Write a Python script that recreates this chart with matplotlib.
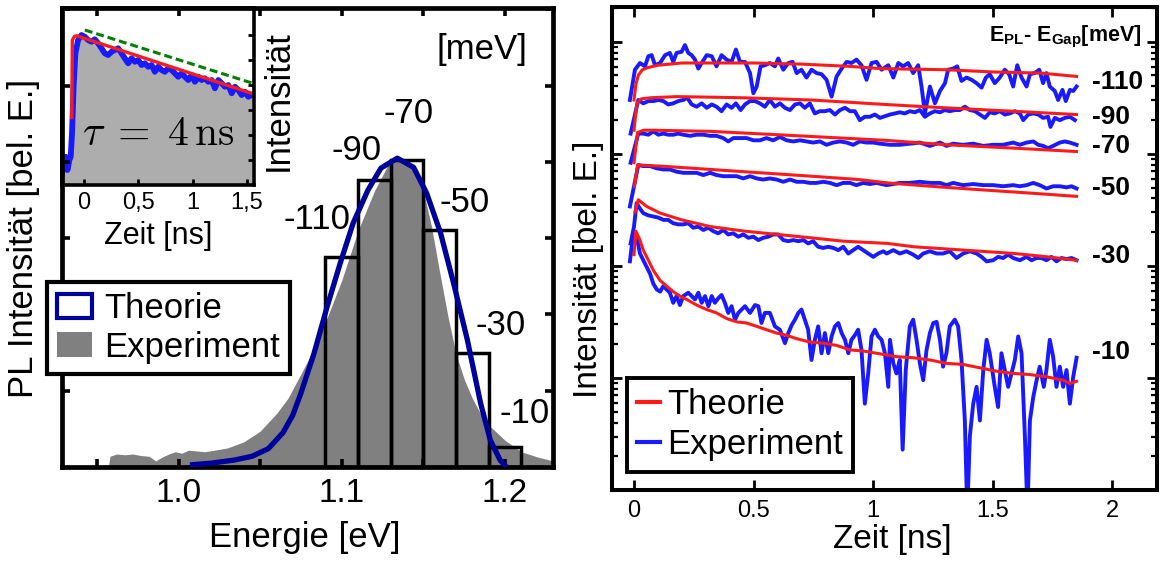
import numpy as np
import matplotlib
matplotlib.use("Agg")
import matplotlib.pyplot as plt
from matplotlib.patches import Patch
from matplotlib.lines import Line2D
from matplotlib.ticker import LogLocator, NullFormatter

plt.rcParams["font.family"] = ["Liberation Sans", "DejaVu Sans"]
plt.rcParams["mathtext.fontset"] = "custom"
plt.rcParams["mathtext.rm"] = "Liberation Sans"
plt.rcParams["mathtext.bf"] = "Liberation Sans:bold"
plt.rcParams["mathtext.it"] = "Liberation Sans:italic"

NAVY = "#00009a"
GRAY = "#808080"
RED = "#ff1a1a"
BLUE = "#1a1aff"

# ---------- left panel: PL spectrum (E [eV], intensity) ----------
spec_exp = np.array([
    (0.957, 0.0), (0.958, 0.14), (0.962, 0.17), (0.967, 0.16), (0.972, 0.17),
    (0.977, 0.15), (0.982, 0.14), (0.986, 0.08), (0.990, 0.13), (0.994, 0.17),
    (0.998, 0.20), (1.002, 0.18), (1.006, 0.22), (1.011, 0.21), (1.016, 0.20),
    (1.022, 0.22), (1.030, 0.25), (1.040, 0.33), (1.050, 0.47), (1.060, 0.70),
    (1.067, 0.90), (1.075, 1.22), (1.083, 1.55), (1.090, 1.90), (1.100, 2.45),
    (1.110, 3.10), (1.120, 3.62), (1.128, 3.95), (1.134, 4.05), (1.140, 4.03),
    (1.145, 3.90), (1.150, 3.62), (1.155, 3.15), (1.160, 2.55), (1.165, 1.98),
    (1.170, 1.48), (1.175, 1.15), (1.180, 0.90), (1.185, 0.70), (1.190, 0.55),
    (1.200, 0.35), (1.210, 0.20), (1.220, 0.13), (1.2294, 0.08)])
spec_th = np.array([
    (1.0086, 0.03), (1.020, 0.05), (1.034, 0.09), (1.045, 0.14), (1.055, 0.24),
    (1.064, 0.45), (1.070, 0.68), (1.075, 0.97), (1.083, 1.49), (1.091, 2.10),
    (1.099, 2.67), (1.107, 3.20), (1.116, 3.63), (1.124, 3.92), (1.134, 4.05),
    (1.144, 3.93), (1.152, 3.59), (1.1605, 3.07), (1.1685, 2.41), (1.177, 1.66),
    (1.185, 0.84), (1.191, 0.35), (1.197, 0.09), (1.200, 0.02)])

# detuning histogram E_PL - E_Gap
hist_left = [1.09, 1.11, 1.13, 1.15, 1.17, 1.19]
hist_height = [2.75, 3.77, 4.02, 3.11, 1.49, 0.26]
hist_label = ["-110", "-90", "-70", "-50", "-30", "-10"]
hist_label_off = [(-18, 27), (-13, 21), (1, 34), (18, 20), (20, 20), (14, 24)]

# ---------- inset: transient (t [ns], intensity) ----------
ins_exp = np.array([
    (-0.200, 0.47), (-0.181, 0.87), (-0.166, 1.13), (-0.150, 0.60), (-0.132, 1.00),
    (-0.120, 1.13), (-0.108, 2.07), (-0.092, 4.07), (-0.077, 5.27), (-0.052, 5.80),
    (-0.021, 6.00), (0.009, 5.93), (0.040, 5.80), (0.071, 5.73), (0.101, 5.83),
    (0.132, 5.67), (0.163, 5.47), (0.193, 5.27), (0.224, 5.20), (0.255, 5.33),
    (0.285, 5.40), (0.316, 5.47), (0.347, 5.27), (0.377, 5.07), (0.408, 4.87),
    (0.439, 5.07), (0.469, 4.93), (0.500, 5.00), (0.531, 4.80), (0.561, 4.87),
    (0.592, 4.73), (0.623, 4.80), (0.653, 4.53), (0.684, 4.73), (0.715, 4.60),
    (0.745, 4.53), (0.776, 4.67), (0.807, 4.60), (0.837, 4.47), (0.868, 4.33),
    (0.899, 4.47), (0.929, 4.33), (0.960, 4.20), (0.991, 4.40), (1.021, 4.13),
    (1.052, 4.33), (1.083, 4.20), (1.113, 4.27), (1.144, 4.13), (1.175, 4.20),
    (1.205, 3.87), (1.236, 4.20), (1.267, 4.07), (1.297, 3.93), (1.328, 4.00),
    (1.359, 3.67), (1.389, 3.93), (1.420, 3.80), (1.451, 3.60), (1.481, 3.73),
    (1.512, 3.53), (1.543, 3.60)])
ins_th = np.array([(-0.110, 2.70), (-0.105, 5.80), (-0.085, 5.95), (-0.065, 5.97),
                   (0.745, 4.81), (1.550, 3.66)])
ins_tau = np.array([(0.010, 6.20), (1.545, 4.08)])

# ---------- right panel: transients, (t [ns], log10 intensity) ----------
exp_110 = np.array([
    (-0.017, 3.48), (0.004, 3.75), (0.025, 3.81), (0.046, 3.78), (0.060, 3.87),
    (0.074, 3.88), (0.088, 3.79), (0.109, 3.81), (0.130, 3.88), (0.150, 3.90),
    (0.164, 3.82), (0.178, 3.90), (0.199, 3.91), (0.213, 3.97), (0.227, 3.90),
    (0.241, 3.88), (0.255, 3.84), (0.269, 3.76), (0.283, 3.81), (0.304, 3.88),
    (0.325, 3.87), (0.345, 3.78), (0.366, 3.88), (0.387, 3.84), (0.408, 3.82),
    (0.426, 3.93), (0.443, 3.82), (0.464, 3.82), (0.485, 3.72), (0.499, 3.54),
    (0.513, 3.60), (0.529, 3.78), (0.547, 3.79), (0.568, 3.81), (0.589, 3.78),
    (0.603, 3.85), (0.624, 3.75), (0.645, 3.81), (0.663, 3.82), (0.680, 3.72),
    (0.700, 3.75), (0.721, 3.68), (0.742, 3.75), (0.763, 3.72), (0.784, 3.71),
    (0.805, 3.66), (0.826, 3.51), (0.847, 3.69), (0.868, 3.76), (0.889, 3.82),
    (0.909, 3.81), (0.930, 3.84), (0.951, 3.79), (0.972, 3.66), (0.993, 3.81),
    (1.014, 3.82), (1.035, 3.75), (1.063, 3.79), (1.084, 3.68), (1.105, 3.81),
    (1.125, 3.78), (1.146, 3.81), (1.167, 3.72), (1.188, 3.79), (1.202, 3.60),
    (1.216, 3.36), (1.237, 3.60), (1.258, 3.45), (1.279, 3.56), (1.300, 3.63),
    (1.313, 3.75), (1.334, 3.76), (1.351, 3.78), (1.369, 3.65), (1.390, 3.68),
    (1.411, 3.66), (1.432, 3.63), (1.453, 3.59), (1.471, 3.68), (1.487, 3.71),
    (1.508, 3.63), (1.529, 3.68), (1.550, 3.75), (1.568, 3.71), (1.585, 3.60),
    (1.602, 3.79), (1.620, 3.68), (1.641, 3.60), (1.655, 3.71), (1.675, 3.72),
    (1.694, 3.75), (1.710, 3.63), (1.724, 3.72), (1.738, 3.60), (1.759, 3.56),
    (1.773, 3.48), (1.791, 3.57), (1.805, 3.47), (1.822, 3.57), (1.836, 3.56),
    (1.850, 3.60)])
exp_90 = np.array([
    (-0.014, 3.18), (0.018, 3.48), (0.039, 3.45), (0.060, 3.47), (0.081, 3.47),
    (0.102, 3.48), (0.123, 3.47), (0.143, 3.44), (0.164, 3.45), (0.185, 3.47),
    (0.206, 3.48), (0.223, 3.50), (0.241, 3.44), (0.262, 3.42), (0.283, 3.45),
    (0.304, 3.41), (0.325, 3.44), (0.345, 3.42), (0.366, 3.38), (0.387, 3.44),
    (0.408, 3.41), (0.426, 3.45), (0.446, 3.39), (0.464, 3.44), (0.485, 3.47),
    (0.506, 3.47), (0.526, 3.45), (0.547, 3.42), (0.568, 3.48), (0.589, 3.42),
    (0.610, 3.45), (0.631, 3.41), (0.652, 3.39), (0.673, 3.44), (0.694, 3.45),
    (0.714, 3.41), (0.735, 3.45), (0.756, 3.36), (0.777, 3.38), (0.798, 3.38),
    (0.819, 3.39), (0.840, 3.35), (0.861, 3.39), (0.882, 3.41), (0.903, 3.38),
    (0.923, 3.38), (0.944, 3.30), (0.965, 3.33), (0.986, 3.33), (1.007, 3.35),
    (1.028, 3.32), (1.070, 3.35), (1.091, 3.36), (1.111, 3.37), (1.132, 3.36),
    (1.153, 3.38), (1.174, 3.37), (1.195, 3.39), (1.216, 3.33), (1.237, 3.36),
    (1.258, 3.38), (1.279, 3.37), (1.299, 3.39), (1.320, 3.38), (1.341, 3.39),
    (1.362, 3.39), (1.383, 3.42), (1.404, 3.39), (1.425, 3.38), (1.446, 3.35),
    (1.467, 3.32), (1.487, 3.37), (1.508, 3.36), (1.529, 3.38), (1.550, 3.35),
    (1.571, 3.36), (1.592, 3.38), (1.613, 3.36), (1.627, 3.30), (1.648, 3.35),
    (1.669, 3.36), (1.690, 3.35), (1.710, 3.32), (1.731, 3.33), (1.741, 3.24),
    (1.759, 3.32), (1.780, 3.30), (1.801, 3.32), (1.822, 3.33), (1.843, 3.30)])
exp_70 = np.array([
    (-0.014, 2.92), (0.018, 3.18), (0.039, 3.18), (0.060, 3.17), (0.081, 3.20),
    (0.102, 3.17), (0.123, 3.18), (0.143, 3.17), (0.164, 3.17), (0.185, 3.18),
    (0.206, 3.17), (0.234, 3.16), (0.262, 3.17), (0.290, 3.17), (0.318, 3.16),
    (0.345, 3.16), (0.373, 3.14), (0.394, 3.11), (0.415, 3.14), (0.443, 3.14),
    (0.471, 3.14), (0.499, 3.12), (0.526, 3.12), (0.554, 3.14), (0.582, 3.12),
    (0.610, 3.15), (0.638, 3.12), (0.666, 3.11), (0.694, 3.12), (0.721, 3.11),
    (0.749, 3.10), (0.777, 3.11), (0.805, 3.08), (0.833, 3.10), (0.861, 3.11),
    (0.889, 3.10), (0.916, 3.08), (0.944, 3.11), (0.972, 3.10), (1.000, 3.10),
    (1.028, 3.09), (1.070, 3.08), (1.111, 3.08), (1.153, 3.09), (1.195, 3.10),
    (1.237, 3.07), (1.279, 3.10), (1.306, 3.07), (1.334, 3.09), (1.376, 3.08),
    (1.418, 3.09), (1.460, 3.07), (1.501, 3.08), (1.543, 3.08), (1.585, 3.10),
    (1.613, 3.08), (1.641, 3.10), (1.669, 3.11), (1.690, 3.08), (1.710, 3.07),
    (1.731, 3.05), (1.752, 3.07), (1.780, 3.10), (1.801, 3.11), (1.822, 3.10),
    (1.850, 3.08)])
exp_50 = np.array([
    (-0.017, 2.53), (0.018, 2.90), (0.039, 2.89), (0.067, 2.89), (0.095, 2.87),
    (0.123, 2.86), (0.150, 2.86), (0.178, 2.84), (0.206, 2.83), (0.234, 2.83),
    (0.262, 2.83), (0.290, 2.81), (0.318, 2.83), (0.345, 2.81), (0.373, 2.80),
    (0.401, 2.80), (0.429, 2.80), (0.457, 2.78), (0.485, 2.80), (0.513, 2.78),
    (0.540, 2.77), (0.568, 2.78), (0.596, 2.77), (0.624, 2.75), (0.652, 2.77),
    (0.680, 2.75), (0.708, 2.75), (0.735, 2.74), (0.763, 2.74), (0.791, 2.75),
    (0.819, 2.74), (0.847, 2.72), (0.875, 2.74), (0.903, 2.74), (0.930, 2.72),
    (0.958, 2.74), (0.986, 2.73), (1.014, 2.74), (1.056, 2.72), (1.111, 2.74),
    (1.153, 2.74), (1.195, 2.75), (1.237, 2.74), (1.279, 2.74), (1.306, 2.72),
    (1.334, 2.74), (1.376, 2.72), (1.418, 2.73), (1.460, 2.72), (1.501, 2.72),
    (1.543, 2.71), (1.585, 2.72), (1.613, 2.71), (1.641, 2.72), (1.669, 2.74),
    (1.696, 2.72), (1.724, 2.69), (1.752, 2.71), (1.780, 2.71), (1.808, 2.70),
    (1.829, 2.71), (1.850, 2.69)])
exp_30 = np.array([
    (-0.014, 2.20), (0.000, 2.35), (0.011, 2.56), (0.025, 2.51), (0.039, 2.47),
    (0.060, 2.45), (0.081, 2.44), (0.102, 2.43), (0.123, 2.41), (0.143, 2.41),
    (0.164, 2.38), (0.185, 2.37), (0.206, 2.37), (0.227, 2.38), (0.248, 2.34),
    (0.269, 2.35), (0.290, 2.32), (0.311, 2.34), (0.331, 2.31), (0.352, 2.29),
    (0.373, 2.32), (0.394, 2.28), (0.415, 2.29), (0.436, 2.26), (0.457, 2.28),
    (0.478, 2.25), (0.499, 2.26), (0.520, 2.23), (0.540, 2.25), (0.561, 2.26),
    (0.582, 2.28), (0.603, 2.28), (0.624, 2.23), (0.645, 2.22), (0.666, 2.23),
    (0.687, 2.22), (0.708, 2.23), (0.728, 2.20), (0.749, 2.22), (0.770, 2.17),
    (0.791, 2.16), (0.812, 2.17), (0.833, 2.16), (0.854, 2.14), (0.875, 2.17),
    (0.896, 2.11), (0.916, 2.14), (0.937, 2.17), (0.958, 2.14), (0.979, 2.11),
    (1.000, 2.08), (1.021, 2.11), (1.042, 2.13), (1.056, 2.11), (1.084, 2.14),
    (1.111, 2.11), (1.139, 2.13), (1.167, 2.10), (1.188, 2.07), (1.209, 2.11),
    (1.237, 2.13), (1.265, 2.11), (1.292, 2.11), (1.320, 2.13), (1.348, 2.07),
    (1.376, 2.11), (1.404, 2.13), (1.432, 2.11), (1.453, 2.08), (1.474, 2.04),
    (1.501, 2.05), (1.522, 2.08), (1.543, 2.07), (1.564, 2.10), (1.585, 2.07),
    (1.613, 2.05), (1.641, 2.08), (1.662, 2.05), (1.683, 2.07), (1.703, 2.07),
    (1.724, 2.05), (1.745, 2.08), (1.766, 2.04), (1.787, 2.07), (1.808, 2.06),
    (1.829, 2.07), (1.850, 2.05)])
exp_10 = np.array([
    (-0.017, 2.04), (-0.003, 2.29), (0.011, 2.26), (0.025, 2.11), (0.039, 2.05),
    (0.053, 1.99), (0.067, 1.93), (0.081, 1.84), (0.095, 1.79), (0.109, 1.77),
    (0.123, 1.82), (0.136, 1.79), (0.150, 1.76), (0.164, 1.67), (0.178, 1.73),
    (0.192, 1.65), (0.206, 1.73), (0.227, 1.76), (0.241, 1.73), (0.255, 1.70),
    (0.269, 1.76), (0.283, 1.67), (0.297, 1.73), (0.311, 1.64), (0.325, 1.73),
    (0.338, 1.67), (0.352, 1.71), (0.366, 1.74), (0.380, 1.67), (0.394, 1.58),
    (0.408, 1.64), (0.422, 1.52), (0.436, 1.58), (0.450, 1.61), (0.464, 1.64),
    (0.485, 1.58), (0.506, 1.65), (0.520, 1.64), (0.533, 1.49), (0.547, 1.58),
    (0.568, 1.58), (0.589, 1.46), (0.610, 1.43), (0.631, 1.31), (0.645, 1.40),
    (0.659, 1.47), (0.673, 1.52), (0.687, 1.58), (0.700, 1.61), (0.714, 1.52),
    (0.728, 1.43), (0.742, 1.16), (0.756, 1.34), (0.770, 1.46), (0.784, 1.22),
    (0.798, 1.40), (0.812, 1.22), (0.826, 1.37), (0.840, 1.46), (0.854, 1.49),
    (0.868, 1.40), (0.882, 1.34), (0.896, 1.22), (0.909, 1.34), (0.923, 1.38),
    (0.937, 1.43), (0.951, 1.25), (0.965, 0.77), (0.979, 1.04), (0.993, 1.37),
    (1.007, 1.43), (1.021, 1.37), (1.035, 1.34), (1.049, 1.22), (1.063, 0.92),
    (1.070, 1.34), (1.084, 1.13), (1.097, 1.04), (1.111, 1.16), (1.123, 0.36),
    (1.136, 1.07), (1.153, 1.46), (1.167, 1.52), (1.181, 1.34), (1.195, 1.13),
    (1.209, 0.98), (1.223, 1.25), (1.237, 1.40), (1.251, 1.49), (1.265, 1.50),
    (1.279, 1.34), (1.292, 1.10), (1.306, 1.22), (1.320, 1.46), (1.341, 1.52),
    (1.355, 1.46), (1.369, 1.16), (1.383, 0.62), (1.393, -0.20), (1.404, 0.48),
    (1.418, 0.77), (1.432, 0.92), (1.446, 0.62), (1.460, 1.07), (1.474, 1.34),
    (1.487, 1.22), (1.508, 0.92), (1.522, 0.74), (1.536, 1.22), (1.550, 1.07),
    (1.564, 0.92), (1.578, 1.04), (1.592, 1.16), (1.606, 1.37), (1.620, 1.22),
    (1.634, 0.48), (1.645, -0.20), (1.655, 0.62), (1.669, 0.83), (1.683, 0.98),
    (1.696, 1.10), (1.713, 0.92), (1.724, 1.07), (1.738, 1.34), (1.752, 1.19),
    (1.766, 0.92), (1.780, 1.10), (1.794, 0.92), (1.808, 1.07), (1.822, 0.77),
    (1.836, 1.01), (1.850, 1.18)])

th_110 = np.array([
    (0.000, 3.48), (0.008, 3.62), (0.018, 3.70), (0.035, 3.75), (0.060, 3.77),
    (0.100, 3.79), (0.200, 3.81), (0.350, 3.81), (0.500, 3.81), (0.700, 3.80),
    (0.900, 3.78), (1.030, 3.76), (1.300, 3.75), (1.500, 3.73), (1.700, 3.72),
    (1.850, 3.69)])
th_90 = np.array([
    (0.000, 3.21), (0.012, 3.45), (0.030, 3.49), (0.070, 3.50), (0.180, 3.51),
    (0.450, 3.50), (0.740, 3.48), (1.050, 3.44), (1.300, 3.41), (1.580, 3.38),
    (1.850, 3.35)])
th_70 = np.array([
    (0.000, 2.92), (0.015, 3.19), (0.040, 3.21), (0.080, 3.21), (0.320, 3.20),
    (0.600, 3.17), (0.870, 3.14), (1.050, 3.12), (1.310, 3.08), (1.590, 3.05),
    (1.850, 3.02)])
th_50 = np.array([
    (0.002, 2.71), (0.015, 2.90), (0.110, 2.89), (0.320, 2.86), (0.530, 2.83),
    (0.740, 2.80), (0.940, 2.77), (1.060, 2.74), (1.240, 2.71), (1.440, 2.68),
    (1.650, 2.65), (1.850, 2.62)])
th_30 = np.array([
    (0.004, 2.48), (0.018, 2.59), (0.053, 2.53), (0.110, 2.47), (0.200, 2.41),
    (0.320, 2.35), (0.460, 2.31), (0.600, 2.28), (0.740, 2.25), (0.875, 2.22),
    (1.060, 2.20), (1.170, 2.17), (1.380, 2.14), (1.590, 2.11), (1.730, 2.08),
    (1.850, 2.05)])
th_10 = np.array([
    (0.000, 2.10), (0.008, 2.31), (0.025, 2.23), (0.039, 2.14), (0.060, 2.05),
    (0.081, 1.96), (0.109, 1.87), (0.136, 1.82), (0.164, 1.77), (0.192, 1.73),
    (0.220, 1.70), (0.262, 1.65), (0.304, 1.61), (0.345, 1.58), (0.387, 1.53),
    (0.429, 1.50), (0.471, 1.49), (0.513, 1.46), (0.554, 1.43), (0.596, 1.40),
    (0.638, 1.38), (0.680, 1.35), (0.735, 1.32), (0.791, 1.31), (0.847, 1.29),
    (0.903, 1.25), (0.958, 1.24), (1.014, 1.22), (1.097, 1.19), (1.167, 1.18),
    (1.237, 1.16), (1.306, 1.13), (1.376, 1.12), (1.446, 1.09), (1.515, 1.06),
    (1.585, 1.04), (1.655, 1.03), (1.724, 1.01), (1.794, 0.98), (1.822, 0.95),
    (1.850, 0.97)])

detuning = ["-110", "-90", "-70", "-50", "-30", "-10"]
exp_sets = [exp_110, exp_90, exp_70, exp_50, exp_30, exp_10]
th_sets = [th_110, th_90, th_70, th_50, th_30, th_10]
det_label_off = [(11, -4), (11, -2), (11, 4), (11, 6), (11, 3), (11, 21)]

fig = plt.figure(figsize=(11.63, 5.61), dpi=100)

# ---------- left: spectrum + histogram ----------
ax = fig.add_axes([0.0533, 0.1676, 0.4222, 0.8182])
ax.patch.set_alpha(0)
ax.fill_between(spec_exp[:, 0], 0, spec_exp[:, 1], color=GRAY, lw=0, zorder=1)
ax.bar(hist_left, hist_height, width=0.02, align="edge", facecolor="none",
       edgecolor="black", lw=2.5, zorder=2)
ax.plot(spec_th[:, 0], spec_th[:, 1], color=NAVY, lw=3.8, zorder=3)
for x0, h, lab, off in zip(hist_left, hist_height, hist_label, hist_label_off):
    ax.annotate(lab, xy=(x0 + 0.01, h), xytext=off, textcoords="offset points",
                ha="center", va="center", fontsize=25)
ax.text(0.855, 0.91, "[meV]", transform=ax.transAxes, ha="center", va="center", fontsize=25)
ax.set_xlim(0.9286, 1.2294)
ax.set_ylim(0, 6.02)
ax.set_xticks([0.95, 1.0, 1.05, 1.1, 1.15, 1.2])
ax.set_xticklabels(["", "1.0", "", "1.1", "", "1.2"])
ax.set_yticks([1, 2, 3, 4, 5, 6])
ax.set_yticklabels([])
ax.tick_params(direction="in", length=6, width=2.6, top=True, right=True,
               labelsize=24, pad=8)
for s in ax.spines.values():
    s.set_linewidth(3.4)
leg = ax.legend([Patch(facecolor="white", edgecolor=NAVY, lw=3),
                 Patch(facecolor=GRAY, edgecolor="none")],
                ["Theorie", "Experiment"], loc="upper left",
                bbox_to_anchor=(0.0404, 0.4973), bbox_transform=fig.transFigure,
                fontsize=25, fancybox=False, edgecolor="black", framealpha=1,
                borderpad=0.3, handlelength=1.0, handleheight=0.7,
                handletextpad=0.35, labelspacing=0.15, borderaxespad=0)
leg.get_frame().set_linewidth(3)
fig.text(0.0206, 0.5758, "PL Intensität [bel. E.]", rotation=90,
         ha="center", va="center", fontsize=25)
fig.text(0.2623, 0.041, "Energie [eV]", ha="center", va="center", fontsize=25)

# ---------- inset: single transient ----------
ins = fig.add_axes([0.0533, 0.6702, 0.1651, 0.3155], zorder=-1)
ins.fill_between(ins_exp[:, 0], 0, ins_exp[:, 1], color="#adadad", lw=0)
ins.plot(ins_exp[:, 0], ins_exp[:, 1], color=BLUE, lw=4.2)
ins.plot(ins_th[:, 0], ins_th[:, 1], color=RED, lw=2.4)
ins.plot(ins_tau[:, 0], ins_tau[:, 1], color="#008000", lw=2.2, dashes=(2.6, 1.3))
ins.text(0.5, 0.29, r"$\tau\;=\;4\,\mathrm{ns}$", transform=ins.transAxes,
         ha="center", va="center", fontsize=30, math_fontfamily="cm")
ins.set_xlim(-0.2, 1.564)
ins.set_ylim(0, 7.08)
ins.set_xticks([0, 0.5, 1, 1.5])
ins.set_xticklabels(["0", "0,5", "1", "1,5"])
ins.set_yticks([1, 2, 3, 4, 5, 6])
ins.set_yticklabels([])
ins.tick_params(direction="in", length=4, width=2, labelsize=17, pad=5,
                left=False, right=True)
for s in ins.spines.values():
    s.set_linewidth(2.6)
fig.text(0.1359, 0.580, "Zeit [ns]", ha="center", va="center", fontsize=22)
fig.text(0.239, 0.82, "Intensität", rotation=90, ha="center", va="center", fontsize=25)

# ---------- right: transients vs detuning ----------
ax2 = fig.add_axes([0.5262, 0.1266, 0.4686, 0.8610])
for ex in exp_sets:
    ax2.plot(ex[:, 0], 10 ** ex[:, 1], color=BLUE, lw=2.8)
for th, lab, off in zip(th_sets, detuning, det_label_off):
    ax2.plot(th[:, 0], 10 ** th[:, 1], color=RED, lw=2.2)
    ax2.annotate(lab, xy=(th[-1, 0], 10 ** th[-1, 1]), xytext=off,
                 textcoords="offset points", ha="left", va="center",
                 fontsize=19, fontweight="bold")
ax2.text(0.692, 0.938, r"E$_{\mathbf{PL}}$- E$_{\mathbf{Gap}}$[meV]",
         transform=ax2.transAxes, ha="left", va="center", fontsize=15.5,
         fontweight="bold")
ax2.set_yscale("log")
ax2.set_xlim(-0.092, 2.186)
ax2.set_ylim(1, 10 ** 4.31)
ax2.set_xticks([0, 0.5, 1, 1.5, 2])
ax2.set_xticklabels(["0", "0.5", "1", "1.5", "2"])
ax2.yaxis.set_major_locator(LogLocator(base=10, numticks=10))
ax2.yaxis.set_minor_locator(LogLocator(base=10, subs=np.arange(2, 10), numticks=10))
ax2.yaxis.set_major_formatter(NullFormatter())
ax2.yaxis.set_minor_formatter(NullFormatter())
ax2.tick_params(which="both", direction="in", top=True, right=True,
                labelsize=17, pad=7)
ax2.tick_params(which="major", length=7, width=2)
ax2.tick_params(which="minor", length=4, width=1.6)
for s in ax2.spines.values():
    s.set_linewidth(2.9)
leg2 = ax2.legend([Line2D([], [], color=RED, lw=3), Line2D([], [], color=BLUE, lw=3)],
                  ["Theorie", "Experiment"], loc="upper left",
                  bbox_to_anchor=(0.539, 0.3262), bbox_transform=fig.transFigure,
                  fontsize=25, fancybox=False, edgecolor="black", framealpha=1,
                  borderpad=0.3, handlelength=0.65, handletextpad=0.2,
                  labelspacing=0.2, borderaxespad=0)
leg2.get_frame().set_linewidth(2.8)
fig.text(0.5056, 0.52, "Intensität [bel. E.]", rotation=90,
         ha="center", va="center", fontsize=24)
fig.text(0.767, 0.0375, "Zeit [ns]", ha="center", va="center", fontsize=24)

fig.savefig("out.png", dpi=100, facecolor="white")
